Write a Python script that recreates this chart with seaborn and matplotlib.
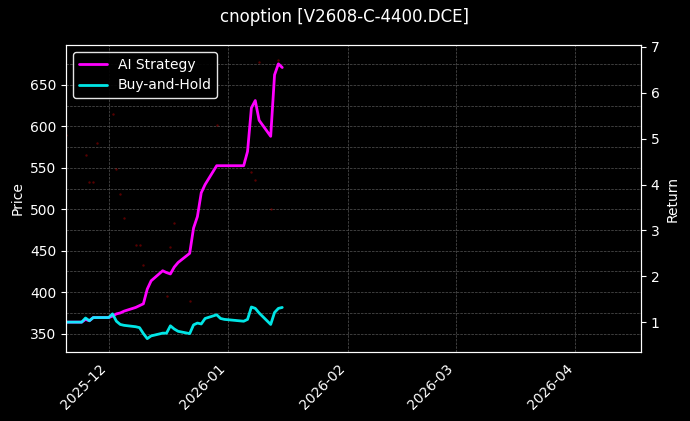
import matplotlib
matplotlib.use("Agg")
import matplotlib.pyplot as plt
import matplotlib.dates as mdates
from matplotlib.ticker import MultipleLocator
import seaborn as sns
import pandas as pd

dates = ["2025-11-20","2025-11-21","2025-11-24","2025-11-25","2025-11-26","2025-11-27","2025-11-28",
         "2025-12-01","2025-12-02","2025-12-03","2025-12-04","2025-12-05","2025-12-08","2025-12-09",
         "2025-12-10","2025-12-11","2025-12-12","2025-12-15","2025-12-16","2025-12-17","2025-12-18",
         "2025-12-19","2025-12-22","2025-12-23","2025-12-24","2025-12-25","2025-12-26","2025-12-29",
         "2025-12-30","2025-12-31","2026-01-05","2026-01-06","2026-01-07","2026-01-08","2026-01-09",
         "2026-01-12","2026-01-13","2026-01-14","2026-01-15"]
strategy = [1.0,1.0,1.0,1.06,1.03,1.1,1.1,1.1,1.13,1.18,1.2,1.24,1.32,1.36,1.4,1.72,1.9,2.12,2.08,
            2.05,2.2,2.3,2.5,3.05,3.3,3.82,4.0,4.41,4.41,4.41,4.41,4.72,5.67,5.83,5.4,5.05,6.39,6.63,6.55]
buyhold = [1.0,1.0,1.0,1.09,1.03,1.1,1.1,1.1,1.18,1.02,0.95,0.93,0.9,0.88,0.75,0.64,0.7,0.76,0.76,
           0.92,0.85,0.8,0.75,0.94,0.98,0.96,1.08,1.16,1.08,1.06,1.02,1.06,1.33,1.3,1.2,0.95,1.21,1.3,1.32]
price_dates = ["2025-11-20","2025-11-25","2025-11-26","2025-11-27","2025-11-28","2025-12-02","2025-12-03",
               "2025-12-04","2025-12-05","2025-12-08","2025-12-09","2025-12-10","2025-12-16","2025-12-17",
               "2025-12-18","2025-12-22","2025-12-29","2026-01-05","2026-01-07","2026-01-08","2026-01-09",
               "2026-01-12","2026-01-14"]
prices = [590,565,533,533,580,615,548,518,490,457,457,433,395,455,484,390,602,560,545,535,677,500,680]

df = pd.DataFrame({"date": pd.to_datetime(dates), "AI Strategy": strategy, "Buy-and-Hold": buyhold})
pdf = pd.DataFrame({"date": pd.to_datetime(price_dates), "price": prices})

plt.style.use("dark_background")
sns.set_style("dark", {"axes.facecolor": "black", "figure.facecolor": "black"})
plt.rcParams['font.family'] = ['DejaVu Sans']
plt.rcParams.update({"text.color": "white", "axes.labelcolor": "white",
                     "xtick.color": "white", "ytick.color": "white", "axes.edgecolor": "white"})

fig, ax = plt.subplots(figsize=(6.9, 4.21), dpi=100)
fig.patch.set_facecolor("black")
ax.set_facecolor("black")
sns.scatterplot(data=pdf, x="date", y="price", ax=ax, color="red", s=3, alpha=0.35, linewidth=0, legend=False)
ax.set_ylim(328, 698)
ax.set_ylabel("Price")
ax.set_xlabel("")
ax.yaxis.set_minor_locator(MultipleLocator(25))
ax.grid(True, which="both", linestyle="--", linewidth=0.5, color="#555555")
ax.tick_params(axis="both", which="both", direction="out")
ax.tick_params(which="minor", length=0)

ax2 = ax.twinx()
sns.lineplot(data=df, x="date", y="AI Strategy", ax=ax2, color="#ff00ff", linewidth=2, label="AI Strategy")
sns.lineplot(data=df, x="date", y="Buy-and-Hold", ax=ax2, color="#00ffff", linewidth=2, alpha=0.9, label="Buy-and-Hold")
ax2.set_ylim(0.35, 7.04)
ax2.set_ylabel("Return")
ax2.set_xlabel("")
ax2.grid(False)
for s in ax2.spines.values():
    s.set_color("white")
leg = ax2.legend(loc="upper left", facecolor="black", edgecolor="white", framealpha=0.9)
for t in leg.get_texts():
    t.set_color("white")

ax.set_xlim(pd.Timestamp("2025-11-20"), pd.Timestamp("2026-04-18"))
ax.xaxis.set_major_locator(mdates.MonthLocator())
ax.xaxis.set_major_formatter(mdates.DateFormatter("%Y-%m"))
plt.setp(ax.get_xticklabels(), rotation=45, ha="right")
fig.suptitle("cnoption [V2608-C-4400.DCE]", color="white", fontsize=12)
fig.subplots_adjust(left=0.096, right=0.929, top=0.893, bottom=0.164)
fig.savefig("out.png", facecolor="black")
